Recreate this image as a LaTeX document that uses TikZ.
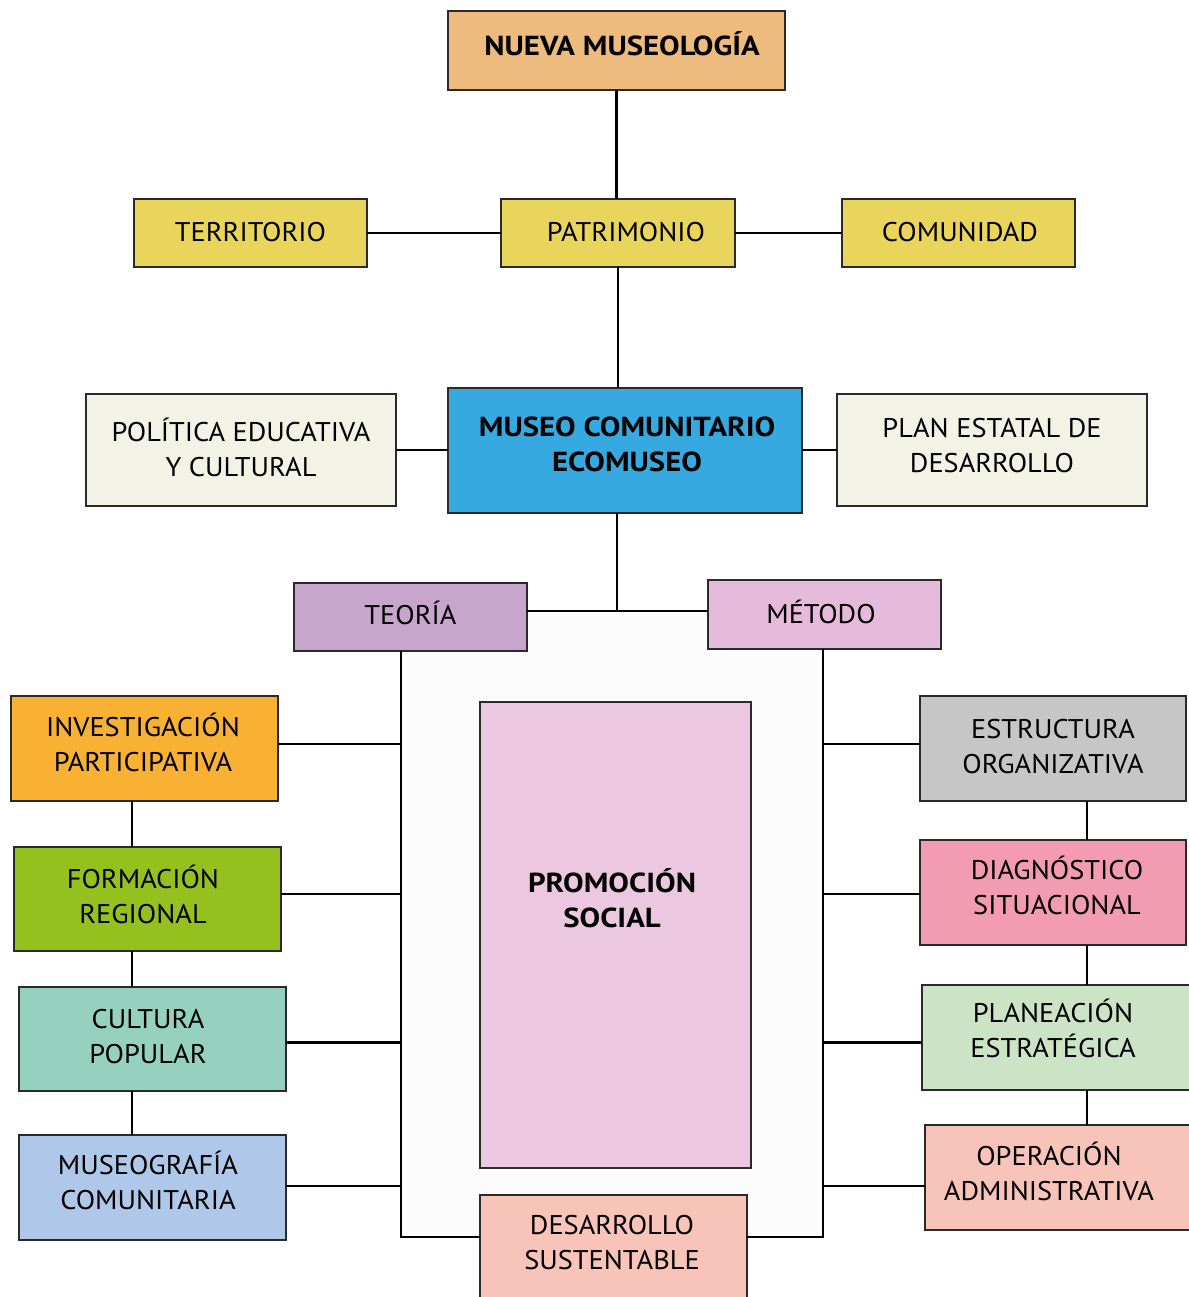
\documentclass[tikz,border=0pt]{standalone}
\usepackage{fontspec}
\setmainfont{PT Sans}[FakeStretch=1.05]
\newfontfamily\bfam{PT Sans}[FakeStretch=1.12]
\definecolor{cNueva}{HTML}{ECBB7D}
\definecolor{cYel}{HTML}{E9D55B}
\definecolor{cCream}{HTML}{F2F2E6}
\definecolor{cBlue}{HTML}{35A9E0}
\definecolor{cTeo}{HTML}{C8A5CC}
\definecolor{cMet}{HTML}{E6BADA}
\definecolor{cPromo}{HTML}{EBC8E0}
\definecolor{cInv}{HTML}{F8B133}
\definecolor{cForm}{HTML}{95C11F}
\definecolor{cCult}{HTML}{96D0BF}
\definecolor{cMusg}{HTML}{AFC8EA}
\definecolor{cEstr}{HTML}{C6C6C6}
\definecolor{cDiag}{HTML}{F29BB3}
\definecolor{cPlan}{HTML}{CCE3C5}
\definecolor{cSalmon}{HTML}{F8C3B8}
\definecolor{cBorder}{HTML}{2B2A29}
\newcommand\pd[1]{\rule{#1}{0pt}}
\tikzset{
  box/.style={draw=cBorder, line width=2.5pt, inner sep=0pt, outer sep=0pt,
    align=center, font=\fontsize{27}{35}\selectfont, text=black},
  boldbox/.style={box, font=\fontsize{27.5}{35}\bfam\bfseries},
  up/.style={text depth=#1pt},
  conn/.style={draw=black, line width=2.5pt}
}
\begin{document}
\begin{tikzpicture}[x=1pt,y=-1pt]
\useasboundingbox (0,0) rectangle (1188,1297);
\fill[white] (0,0) rectangle (1188,1297);
\fill[black!1.2] (401,611) rectangle (823,1237);

% nodes
\node[boldbox, fill=cNueva, minimum width=337pt, minimum height=79pt, up=14] (nueva) at (616.5,50.5) {\pd{11pt}NUEVA MUSEOLOGÍA};
\node[box, fill=cYel, minimum width=233pt, minimum height=68pt, up=2] (terr) at (250.5,233) {TERRITORIO};
\node[box, fill=cYel, minimum width=234pt, minimum height=68pt, up=2] (patr) at (618,233) {\pd{16pt}PATRIMONIO};
\node[box, fill=cYel, minimum width=233pt, minimum height=68pt, up=2] (comu) at (958.5,233) {\pd{3pt}COMUNIDAD};
\node[box, fill=cCream, minimum width=310pt, minimum height=112pt, up=6] (poli) at (241,450) {POLÍTICA EDUCATIVA\\Y CULTURAL};
\node[boldbox, fill=cBlue, minimum width=354pt, minimum height=125pt, up=12] (museo) at (625,450.5) {\pd{4pt}MUSEO COMUNITARIO\\\pd{4pt}ECOMUSEO};
\node[box, fill=cCream, minimum width=310pt, minimum height=112pt, up=10] (plan) at (992,450) {PLAN ESTATAL DE\\DESARROLLO};
\node[box, fill=cTeo, minimum width=233pt, minimum height=68pt, up=8] (teoria) at (410.5,617) {TEORÍA};
\node[box, fill=cMet, minimum width=233pt, minimum height=69pt, up=6] (metodo) at (824.5,614.5) {MÉTODO\pd{7pt}};
\node[box, fill=cPromo, minimum width=271pt, minimum height=466pt] (promo) at (615.5,935) {};
\node[font=\fontsize{27.5}{35}\bfam\bfseries, align=center] (promotext) at (612,898) {PROMOCIÓN\\SOCIAL};

\node[box, fill=cInv, minimum width=267pt, minimum height=105pt, up=12] (inv) at (144.5,748.5) {INVESTIGACIÓN\pd{3pt}\\PARTICIPATIVA\pd{3pt}};
\node[box, fill=cForm, minimum width=267pt, minimum height=104pt, up=10] (form) at (147.5,899) {FORMACIÓN\pd{9pt}\\REGIONAL\pd{9pt}};
\node[box, fill=cCult, minimum width=267pt, minimum height=104pt, up=6] (cult) at (152.5,1039) {CULTURA\pd{9pt}\\POPULAR\pd{9pt}};
\node[box, fill=cMusg, minimum width=267pt, minimum height=105pt, up=14] (musg) at (152.5,1187.5) {MUSEOGRAFÍA\pd{9pt}\\COMUNITARIA\pd{9pt}};

\node[box, fill=cEstr, minimum width=266pt, minimum height=105pt, up=4] (estr) at (1053,748.5) {ESTRUCTURA\\ORGANIZATIVA};
\node[box, fill=cDiag, minimum width=266pt, minimum height=105pt, up=14] (diag) at (1053,892.5) {\pd{8pt}DIAGNÓSTICO\\\pd{8pt}SITUACIONAL};
\node[box, fill=cPlan, minimum width=268pt, minimum height=105pt, up=18] (plane) at (1056,1037.5) {PLANEACIÓN\pd{6pt}\\ESTRATÉGICA\pd{6pt}};
\node[box, fill=cSalmon, minimum width=265pt, minimum height=105pt, up=12] (oper) at (1057.5,1177.5) {OPERACIÓN\pd{17pt}\\ADMINISTRATIVA\pd{17pt}};

\node[box, fill=cSalmon, minimum width=267pt, minimum height=110pt, up=15] (desa) at (613.5,1250) {DESARROLLO\pd{3pt}\\SUSTENTABLE\pd{3pt}};

% helper coordinates
\coordinate (j) at (617,611);
\coordinate (lb) at (401,1237);
\coordinate (rb) at (823,1237);
\coordinate (lx) at (132,0);
\coordinate (rx) at (1087,0);

% connectors
\draw[conn] (nueva.south) -- (nueva.south |- patr.north);
\draw[conn] (terr.east) -- (patr.west);
\draw[conn] (patr.east) -- (comu.west);
\draw[conn] (patr.south) -- (patr.south |- museo.north);
\draw[conn] (poli.east) -- (poli.east -| museo.west);
\draw[conn] (museo.east |- plan.west) -- (plan.west);
\draw[conn] (museo.south -| j) -- (j);
\draw[conn] (teoria.east |- j) -- (metodo.west |- j);

\draw[conn] (teoria.south -| lb) -- (lb) -- (lb -| desa.west);
\draw[conn] (metodo.south -| rb) -- (rb) -- (rb -| desa.east);

\draw[conn] ([yshift=4.5pt]inv.east) -- ([yshift=4.5pt]inv.east -| lb);
\draw[conn] ([yshift=5pt]form.east) -- ([yshift=5pt]form.east -| lb);
\draw[conn] ([yshift=-3.5pt]cult.east) -- ([yshift=-3.5pt]cult.east -| lb);
\draw[conn] ([yshift=1.5pt]musg.east) -- ([yshift=1.5pt]musg.east -| lb);

\draw[conn] ([yshift=4.5pt]estr.west) -- ([yshift=4.5pt]estr.west -| rb);
\draw[conn] ([yshift=-1.5pt]diag.west) -- ([yshift=-1.5pt]diag.west -| rb);
\draw[conn] ([yshift=-5pt]plane.west) -- ([yshift=-5pt]plane.west -| rb);
\draw[conn] ([yshift=-8.5pt]oper.west) -- ([yshift=-8.5pt]oper.west -| rb);

\draw[conn] (inv.south -| lx) -- (form.north -| lx);
\draw[conn] (form.south -| lx) -- (cult.north -| lx);
\draw[conn] (cult.south -| lx) -- (musg.north -| lx);

\draw[conn] (estr.south -| rx) -- (diag.north -| rx);
\draw[conn] (diag.south -| rx) -- (plane.north -| rx);
\draw[conn] (plane.south -| rx) -- (oper.north -| rx);
\end{tikzpicture}
\end{document}
